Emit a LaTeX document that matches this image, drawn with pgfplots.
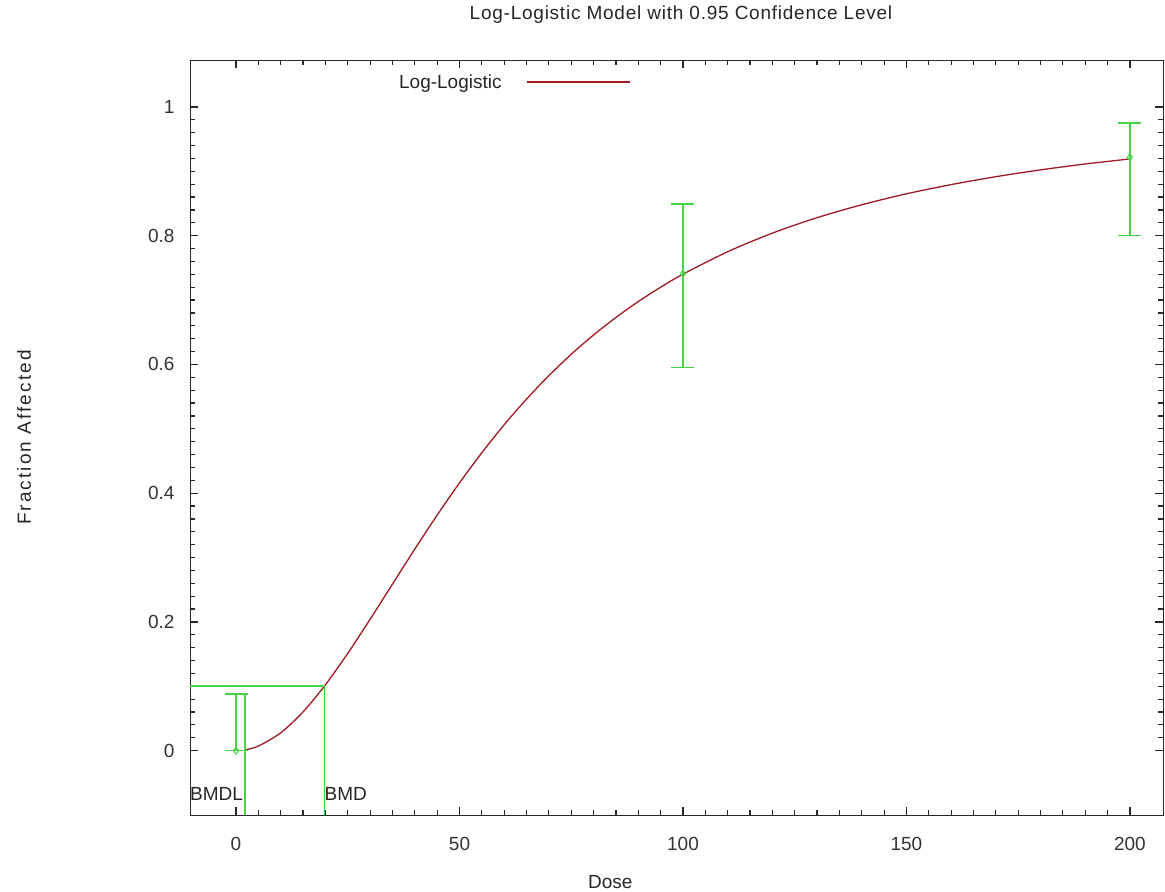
\documentclass[border=0pt]{standalone}
\usepackage{fontspec}
\setmainfont{Liberation Sans}
\newfontfamily\spaced[LetterSpace=4]{Liberation Sans}
\newfontfamily\spacedy[LetterSpace=11]{Liberation Sans}
\usepackage{pgfplots}
\pgfplotsset{compat=1.18}
\usetikzlibrary{calc}
\definecolor{curvered}{RGB}{160,25,35}
\definecolor{ebgreen}{RGB}{70,210,70}
\definecolor{axisgray}{RGB}{40,40,40}
\begin{document}
\begin{tikzpicture}
\begin{axis}[name=ax,
  width=973pt, height=755pt, scale only axis,
  xmin=-10.3, xmax=207.4, ymin=-0.1, ymax=1.073,
  xtick={0,50,100,150,200}, ytick={0,0.2,0.4,0.6,0.8,1},
  minor x tick num=9, minor y tick num=9,
  tick align=inside, major tick length=8pt, minor tick length=5pt,
  axis line style={axisgray, line width=0.9pt},
  every tick/.style={axisgray, line width=1.3pt},
  every minor tick/.style={axisgray, line width=1.2pt},
  /pgf/number format/assume math mode=true,
  every tick label/.append style={font=\fontsize{19}{22}\selectfont, text=black!80},
  xticklabel style={yshift=-19pt},
  yticklabel style={xshift=-12pt},
  clip=false,
  title={\spaced Log-Logistic Model with 0.95 Confidence Level},
  title style={font=\fontsize{19}{22}\selectfont, text=black!85, at={(axis description cs:0.5,1)}, anchor=center, yshift=39pt, xshift=4.5pt},
  xlabel={Dose},
  xlabel style={font=\fontsize{19}{22}\selectfont, text=black!85, at={(axis description cs:0.432,-0.0887)}, anchor=center},
  ylabel={\spacedy Fraction Affected},
  ylabel style={font=\fontsize{19}{22}\selectfont, text=black!85, at={(axis description cs:-0.1706,0.5)}, anchor=center},
  legend style={at={(axis cs:36.0,1.039)}, anchor=west, draw=none, fill=none, inner sep=0pt,
    font=\fontsize{19}{22}\selectfont, text=black!85},
  legend plot pos=right,
  legend image code/.code={\path (0pt,0pt); \draw[#1] (23pt,0pt) -- (126pt,0pt);},
]
% model curve
\addplot[curvered, line width=1.3pt, smooth] coordinates {
 (2,0.0011) (5,0.0071) (10,0.0277) (15,0.0602) (20,0.1023) (25,0.1511)
 (30,0.2041) (35,0.2587) (40,0.3131) (45,0.3659) (50,0.4160) (55,0.4629)
 (60,0.5063) (65,0.5462) (70,0.5826) (75,0.6158) (80,0.6458) (85,0.6730)
 (90,0.6977) (95,0.7200) (100,0.7402) (110,0.7751) (120,0.8040) (130,0.8280)
 (140,0.8481) (150,0.8651) (160,0.8794) (170,0.8917) (180,0.9023)
 (190,0.9114) (200,0.9193)};
\addlegendentry{Log-Logistic}
% observed data with confidence intervals
\addplot[forget plot, ebgreen, only marks, mark=diamond, mark size=3.5pt,
  mark options={solid, fill=none, line width=1pt},
  error bars/.cd, y dir=both, y explicit,
  error bar style={ebgreen, line width=1.5pt},
  error mark options={rotate=90, mark size=11.5pt, ebgreen, line width=1.5pt, solid}]
 coordinates {
 (0,0) += (0,0.088) -= (0,0)
 (100,0.741) += (0,0.108) -= (0,0.146)
 (200,0.922) += (0,0.053) -= (0,0.122)
 };
% BMD lines
\addplot[forget plot, ebgreen, line width=1.5pt] coordinates {(-10.3,0.1005) (19.8,0.1005) (19.8,-0.1)};
\addplot[forget plot, ebgreen, line width=1.5pt] coordinates {(2.0,0.088) (2.0,-0.1)};
\node[anchor=west, inner sep=0pt, font=\fontsize{19}{22}\selectfont, text=black!85] at (axis cs:-10.3,-0.0668) {BMDL};
\node[anchor=west, inner sep=0pt, font=\fontsize{19}{22}\selectfont, text=black!85] at (axis cs:19.8,-0.0668) {BMD};
\end{axis}
\path[use as bounding box] ($(ax.south west)+(-190pt,-75pt)$) rectangle ($(ax.north east)+(2pt,60pt)$);
\end{tikzpicture}
\end{document}
